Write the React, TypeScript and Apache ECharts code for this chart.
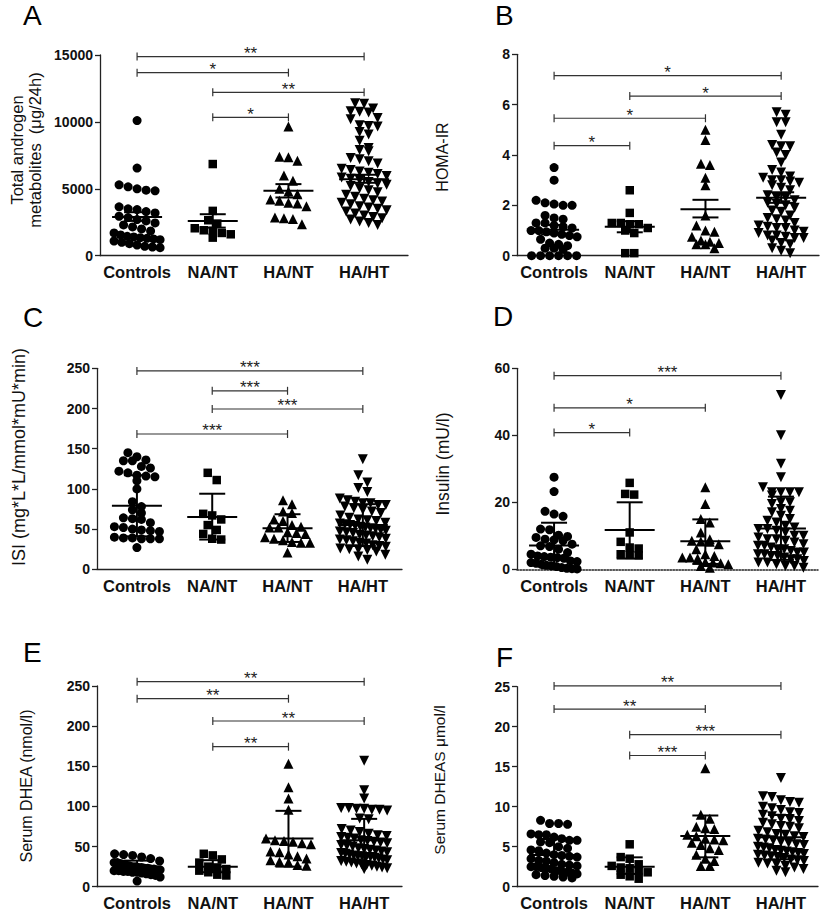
import React, { useEffect, useRef } from "react";
import * as echarts from "echarts";

const categories = ["Controls", "NA/NT", "HA/NT", "HA/HT"];

// ---------- Panel A: Total androgen metabolites (µg/24h) ----------
const aControls = [10100, 6550, 5300, 5150, 5000, 4900, 4850, 3650, 3500, 3450, 3300, 3200, 2950, 2850, 2700, 2600, 2450, 2300, 2150, 2000, 1850, 1700, 1550, 1450, 1400, 1350, 1300, 1250, 1200, 1100, 1000, 900, 800, 700, 650, 600];
const aNaNt = [6850, 3350, 2650, 2400, 2050, 1900, 1850, 1700, 1600, 1350];
const aHaNt = [9650, 7400, 7350, 7100, 6000, 5600, 5000, 4800, 4600, 4200, 4100, 3950, 3900, 3700, 2850, 2800, 2750, 2350];
const aHaHt = [11400, 11350, 11000, 10800, 10750, 10700, 10300, 10200, 9750, 9700, 9650, 9250, 9050, 8600, 8050, 7900, 7800, 7300, 7200, 7050, 6900, 6500, 6400, 6300, 6200, 6100, 5950, 5850, 5750, 5650, 5500, 5400, 5300, 5200, 5050, 4900, 4750, 4550, 4400, 4250, 4150, 4050, 3950, 3850, 3700, 3600, 3500, 3400, 3300, 3150, 3000, 2900, 2800, 2700, 2550, 2450, 2300];
const aMean = [2900, 2600, 4850, 5720];
const aLow = [2600, 2100, 4350, 5450];
const aHigh = [3250, 3100, 5350, 6050];
const aBrackets: [number, number, number, string][] = [[0, 3, 14880, "**"], [0, 2, 13680, "*"], [1, 3, 12210, "**"], [1, 2, 10340, "*"]];

// ---------- Panel B: HOMA-IR ----------
const bControls = [3.5, 3.0, 2.2, 2.1, 2.05, 2.0, 2.0, 1.6, 1.5, 1.45, 1.3, 1.3, 1.2, 1.15, 1.1, 1.0, 1.0, 0.95, 0.9, 0.85, 0.8, 0.75, 0.65, 0.5, 0.45, 0.4, 0.3, 0.3, 0.25, 0, 0, 0, 0, 0, 0];
const bNaNt = [2.6, 1.7, 1.3, 1.3, 1.25, 1.25, 1.1, 1.0, 0.9, 0.1, 0.1];
const bHaNt = [5.0, 4.6, 3.65, 3.6, 3.1, 2.8, 1.6, 1.2, 1.0, 0.95, 0.75, 0.6, 0.55, 0.5, 0.45, 0.45, 0.3];
const bHaHt = [5.7, 5.6, 5.3, 5.3, 4.8, 4.4, 4.35, 4.35, 4.1, 4.0, 3.7, 3.4, 3.3, 3.15, 3.1, 3.0, 3.0, 2.95, 2.9, 2.8, 2.7, 2.6, 2.4, 2.3, 2.3, 2.2, 2.1, 2.05, 2.0, 1.9, 1.8, 1.75, 1.6, 1.5, 1.45, 1.4, 1.3, 1.2, 1.15, 1.1, 1.1, 1.0, 0.95, 0.9, 0.8, 0.8, 0.75, 0.7, 0.7, 0.6, 0.5, 0.45, 0.3, 0.2, 0.1];
const bMean = [1.03, 1.15, 1.85, 2.3];
const bLow = [0.85, 0.93, 1.52, 2.1];
const bHigh = [1.22, 1.37, 2.22, 2.52];
const bBrackets: [number, number, number, string][] = [[0, 3, 7.15, "*"], [1, 3, 6.34, "*"], [0, 2, 5.46, "*"], [0, 1, 4.37, "*"]];

// ---------- Panel C: ISI ----------
const cControls = [145, 140, 136, 135, 135, 128, 126, 122, 120, 117, 116, 115, 110, 100, 84, 78, 74, 70, 64, 63, 62, 58, 53, 52, 50, 49, 48, 47, 40, 39, 39, 38, 38, 38, 27];
const cNaNt = [120, 111, 69, 67, 62, 55, 49, 44, 38, 37];
const cHaNt = [86, 81, 72, 70, 62, 60, 55, 53, 52, 52, 46, 45, 44, 40, 38, 36, 34, 33, 33, 21];
const cHaHt = [137, 117, 108, 101, 96, 88, 86, 84, 82, 82, 80, 80, 78, 76, 74, 72, 70, 67, 64, 62, 61, 60, 58, 57, 56, 55, 54, 53, 52, 51, 50, 49, 48, 47, 46, 45, 43, 42, 41, 40, 38, 37, 36, 35, 33, 32, 30, 29, 28, 26, 25, 25, 24, 22, 18, 16, 12];
const cMean = [79, 65, 51, 55];
const cLow = [41, 37, 34, 29];
const cHigh = [117, 94, 68.5, 81];
const cBrackets: [number, number, number, string][] = [[0, 3, 246.7, "***"], [1, 2, 222, "***"], [1, 3, 199.4, "***"], [0, 2, 168.3, "***"]];

// ---------- Panel D: Insulin (mU/l) ----------
const dControls = [27.5, 23.2, 17.3, 16.5, 15.8, 12, 11.8, 10.2, 9.8, 9.5, 9, 8.8, 8.5, 7.5, 7, 6.8, 6, 5, 4.5, 4, 3.8, 3.6, 3.5, 3.3, 2.5, 2.3, 2, 1.8, 1.5, 1.2, 1, 0.8, 0.5, 0.3, 0.2, 0.1];
const dNaNt = [25.8, 22.5, 22.3, 11, 8.2, 6.5, 6.2, 4.5, 4.3, 4.2];
const dHaNt = [24.5, 19.5, 15, 14, 11, 9, 8.5, 8.3, 8.2, 7.5, 6, 4.5, 4, 3.5, 3.5, 3.2, 2.2, 2, 1.8, 1.5, 1, 0.5];
const dHaHt = [52, 40, 31.5, 27.5, 24.5, 23, 23, 23, 23, 22, 20, 20, 19.5, 18, 17.5, 17, 16, 15, 14.5, 14, 13, 12.5, 12, 12, 11.5, 11, 10, 10, 9.5, 9, 9, 8.5, 8, 7.5, 7, 7, 6.5, 6, 6, 5.5, 5, 5, 4.5, 4.5, 4, 4, 3.5, 3, 3, 2.5, 2, 2, 1.5, 1, 1, 0.5];
const dMean = [7.1, 11.7, 8.4, 12.2];
const dLow = [0.3, 3.2, 1.6, 2.8];
const dHigh = [13.9, 20, 14.9, 21.7];
const dBrackets: [number, number, number, string][] = [[0, 3, 57.8, "***"], [0, 2, 48.2, "*"], [0, 1, 40.8, "*"]];

// ---------- Panel E: Serum DHEA (nmol/l) ----------
const eControls = [41, 40, 39, 37, 35, 32, 30, 30, 29, 28, 27, 26, 25, 25, 24, 24, 23, 23, 22, 22, 21, 21, 20, 20, 19, 19, 18, 18, 17, 16, 15, 14, 12, 7];
const eNaNt = [41, 39, 34, 30, 25, 24, 22, 20, 18, 15, 14];
const eHaNt = [153, 124, 110, 96, 60, 58, 57, 56, 54, 53, 44, 43, 40, 38, 35, 33, 31, 30, 27, 26];
const eHaHt = [157, 120, 110, 98, 98, 97, 97, 96, 96, 95, 85, 84, 72, 70, 68, 66, 64, 63, 62, 61, 60, 58, 57, 56, 55, 54, 52, 51, 50, 48, 47, 46, 45, 44, 43, 42, 41, 40, 39, 38, 38, 37, 37, 36, 35, 34, 33, 32, 31, 30, 29, 28, 27, 26, 25, 24, 23, 22];
const eMean = [24, 25, 60, 58];
const eLow = [15.5, 18, 25, 31];
const eHigh = [32.5, 33, 94.5, 84.5];
const eBrackets: [number, number, number, string][] = [[0, 3, 255.4, "**"], [0, 2, 234.2, "**"], [1, 3, 206.4, "**"], [1, 2, 174.4, "**"]];

// ---------- Panel F: Serum DHEAS µmol/l ----------
const fControls = [8.3, 7.9, 7.9, 7.8, 6.6, 6.5, 6.5, 6.2, 6, 5.8, 5.8, 5.6, 5.5, 5, 4.8, 4.6, 4.5, 4.2, 4.0, 3.9, 3.8, 3.7, 3.5, 3.3, 3.2, 3.0, 2.8, 2.7, 2.6, 2.5, 2.5, 2.4, 2.3, 2.2, 2.0, 1.9, 1.8, 1.7, 1.6, 1.5, 1.4, 1.3, 1.2, 1.1];
const fNaNt = [5.3, 3.7, 3.5, 2.8, 2.6, 2.4, 2.3, 2.0, 1.8, 1.5, 1.3, 1.0];
const fHaNt = [14.8, 9.0, 8.5, 7.5, 7.3, 7.2, 6.5, 6.3, 6.0, 5.9, 5.8, 5.5, 5.2, 4.8, 4.6, 4.0, 3.5, 3.2, 2.6, 2.6];
const fHaHt = [13.6, 11.3, 11.2, 10.8, 10.6, 10.5, 10.0, 9.8, 9.6, 9.3, 9.2, 9.0, 8.8, 8.5, 8.4, 8.2, 8.0, 7.8, 7.6, 7.5, 7.3, 7.0, 6.8, 6.6, 6.5, 6.3, 6.2, 6.0, 5.9, 5.8, 5.6, 5.5, 5.3, 5.2, 5.0, 4.9, 4.8, 4.6, 4.5, 4.4, 4.3, 4.2, 4.1, 4.0, 3.9, 3.8, 3.7, 3.6, 3.4, 3.3, 3.2, 3.0, 2.9, 2.8, 2.6, 2.4, 2.2, 2.0, 1.8];
const fMean = [3.96, 2.5, 6.33, 6.17];
const fLow = [2.0, 1.6, 3.67, 3.42];
const fHigh = [5.96, 3.67, 8.9, 8.96];
const fBrackets: [number, number, number, string][] = [[0, 3, 25.1, "**"], [0, 2, 22.2, "**"], [1, 3, 19.0, "***"], [1, 2, 16.4, "***"]];

// ---------- layout / styling ----------
const FONT = "'Liberation Sans', Arial, Helvetica, sans-serif";
const symbols = ["circle", "rect", "triangle", "triangle"];
const symbolRot = [0, 0, 0, 180];
const symbolSizes = [9, 8.5, 10, 10];

const panels = [
  { letter: "A", lx: 23, ly: 15, groups: [aControls, aNaNt, aHaNt, aHaHt], mean: aMean, low: aLow, high: aHigh, brackets: aBrackets,
    left: 100, top: 55, width: 308, height: 200.7, xMin: -0.49, xMax: 3.58, yMax: 15000, yInt: 5000, dotted: false,
    title: "Total androgen\nmetabolites  (μg/24h)", tx: 26, ty: 150, tSize: 16.5 },
  { letter: "B", lx: 495, ly: 15, groups: [bControls, bNaNt, bHaNt, bHaHt], mean: bMean, low: bLow, high: bHigh, brackets: bBrackets,
    left: 517, top: 54.3, width: 302, height: 201.4, xMin: -0.49, xMax: 3.5, yMax: 8, yInt: 2, dotted: false,
    title: "HOMA-IR", tx: 442, ty: 157, tSize: 16 },
  { letter: "C", lx: 23, ly: 317, groups: [cControls, cNaNt, cHaNt, cHaHt], mean: cMean, low: cLow, high: cHigh, brackets: cBrackets,
    left: 97, top: 368.3, width: 305, height: 201, xMin: -0.53, xMax: 3.52, yMax: 250, yInt: 50, dotted: false,
    title: "ISI (mg*L*L/mmol*mU*min)", tx: 19, ty: 457, tSize: 18 },
  { letter: "D", lx: 493, ly: 316, groups: [dControls, dNaNt, dHaNt, dHaHt], mean: dMean, low: dLow, high: dHigh, brackets: dBrackets,
    left: 517, top: 368.3, width: 301, height: 201, xMin: -0.49, xMax: 3.49, yMax: 60, yInt: 20, dotted: true,
    title: "Insulin (mU/l)", tx: 443, ty: 464, tSize: 17.5 },
  { letter: "E", lx: 23, ly: 652.5, groups: [eControls, eNaNt, eHaNt, eHaHt], mean: eMean, low: eLow, high: eHigh, brackets: eBrackets,
    left: 97, top: 686, width: 305, height: 200.7, xMin: -0.53, xMax: 3.5, yMax: 250, yInt: 50, dotted: false,
    title: "Serum DHEA (nmol/l)", tx: 26, ty: 786, tSize: 16 },
  { letter: "F", lx: 496, ly: 657, groups: [fControls, fNaNt, fHaNt, fHaHt], mean: fMean, low: fLow, high: fHigh, brackets: fBrackets,
    left: 517, top: 686.7, width: 301, height: 200, xMin: -0.49, xMax: 3.49, yMax: 25, yInt: 5, dotted: false,
    title: "Serum DHEAS μmol/l", tx: 439, ty: 780, tSize: 15.5 },
];

// Prism-like scatter-dot arrangement: points with close values share a row
function swarm(values: number[], gi: number, xPx: number, yPx: number) {
  const sorted = [...values].sort((a, b) => b - a);
  const rows: number[][] = [];
  let cur: number[] = [];
  for (const v of sorted) {
    if (cur.length && (cur[0] - v) * yPx > 7.5) {
      rows.push(cur);
      cur = [];
    }
    cur.push(v);
  }
  if (cur.length) rows.push(cur);
  const pts: number[][] = [];
  for (const row of rows) {
    const n = row.length;
    const step = n > 1 ? Math.min(9, 46 / (n - 1)) : 0;
    row.forEach((v, i) => pts.push([gi + ((i - (n - 1) / 2) * step) / xPx, v]));
  }
  return pts;
}

export default function App() {
  const ref = useRef<HTMLDivElement>(null);
  useEffect(() => {
    if (!ref.current) return;
    const chart = echarts.init(ref.current, undefined, { renderer: "svg" });
    const grid: any[] = [];
    const xAxis: any[] = [];
    const yAxis: any[] = [];
    const series: any[] = [];
    const graphic: any[] = [];

    panels.forEach((p, pi) => {
      grid.push({ left: p.left, top: p.top, width: p.width, height: p.height, containLabel: false, outerBoundsMode: "none" });
      xAxis.push({
        type: "value", gridIndex: pi, min: p.xMin, max: p.xMax,
        splitLine: { show: false },
        axisTick: { show: false },
        axisLine: { show: true, onZero: false, lineStyle: { color: "#222", width: p.dotted ? 1.5 : 1.3, type: p.dotted ? "dotted" : "solid" } },
        axisLabel: {
          customValues: [0, 1, 2, 3],
          formatter: (v: number) => categories[Math.round(v)] ?? "",
          color: "#111", fontWeight: "bold", fontSize: 16.5, fontFamily: FONT, margin: 8,
        },
      });
      yAxis.push({
        type: "value", gridIndex: pi, min: 0, max: p.yMax, interval: p.yInt,
        splitLine: { show: false },
        axisLine: { show: true, onZero: false, lineStyle: { color: "#222", width: 1.3 } },
        axisTick: { show: true, length: 5, lineStyle: { color: "#222", width: 1.3 } },
        axisLabel: { color: "#111", fontWeight: "bold", fontSize: 14, fontFamily: FONT, margin: 7, formatter: (v: number) => String(v) },
      });

      const xPx = p.width / (p.xMax - p.xMin);
      const yPx = p.height / p.yMax;

      p.groups.forEach((vals, gi) => {
        series.push({
          type: "scatter", xAxisIndex: pi, yAxisIndex: pi,
          symbol: symbols[gi], symbolRotate: symbolRot[gi], symbolSize: symbolSizes[gi],
          itemStyle: { color: "#000", opacity: 1 },
          data: swarm(vals, gi, xPx, yPx),
          z: 2,
        });
      });

      // mean and error bars
      series.push({
        type: "custom", xAxisIndex: pi, yAxisIndex: pi, z: 3,
        encode: { x: 0, y: [1, 2, 3] },
        data: p.mean.map((m, i) => [i, m, p.low[i], p.high[i]]),
        renderItem: (params: any, api: any) => {
          const x = api.value(0);
          const c = api.coord([x, api.value(1)]);
          const lo = api.coord([x, api.value(2)]);
          const hi = api.coord([x, api.value(3)]);
          const st = { stroke: "#000", lineWidth: 2 };
          const mw = 25, cw = 13;
          return {
            type: "group",
            children: [
              { type: "line", shape: { x1: c[0] - mw, y1: c[1], x2: c[0] + mw, y2: c[1] }, style: st },
              { type: "line", shape: { x1: c[0], y1: lo[1], x2: c[0], y2: hi[1] }, style: st },
              { type: "line", shape: { x1: c[0] - cw, y1: lo[1], x2: c[0] + cw, y2: lo[1] }, style: st },
              { type: "line", shape: { x1: c[0] - cw, y1: hi[1], x2: c[0] + cw, y2: hi[1] }, style: st },
            ],
          };
        },
      });

      // significance brackets
      const br = p.brackets;
      series.push({
        type: "custom", xAxisIndex: pi, yAxisIndex: pi, z: 4, clip: false,
        encode: { x: [0, 1], y: 2 },
        data: br.map((b) => [b[0], b[1], b[2]]),
        renderItem: (params: any, api: any) => {
          const a = api.coord([api.value(0), api.value(2)]);
          const b = api.coord([api.value(1), api.value(2)]);
          const label = br[params.dataIndex][3];
          const st = { stroke: "#333", lineWidth: 1.2 };
          return {
            type: "group",
            children: [
              { type: "line", shape: { x1: a[0], y1: a[1], x2: b[0], y2: b[1] }, style: st },
              { type: "line", shape: { x1: a[0], y1: a[1] - 4, x2: a[0], y2: a[1] + 4 }, style: st },
              { type: "line", shape: { x1: b[0], y1: b[1] - 4, x2: b[0], y2: b[1] + 4 }, style: st },
              {
                type: "text", x: (a[0] + b[0]) / 2, y: a[1] - 3,
                style: { text: label, fill: "#222", fontSize: 17, fontFamily: FONT, align: "center", verticalAlign: "middle" },
              },
            ],
          };
        },
      });

      graphic.push({
        type: "text", x: p.lx, y: p.ly,
        style: { text: p.letter, fill: "#000", fontSize: 28, fontFamily: FONT, align: "left", verticalAlign: "middle" },
      });
      graphic.push({
        type: "text", x: p.tx, y: p.ty, rotation: Math.PI / 2,
        style: { text: p.title, fill: "#111", fontSize: p.tSize, lineHeight: 18, fontFamily: FONT, align: "center", verticalAlign: "middle" },
      });
    });

    chart.setOption({
      animation: false,
      backgroundColor: "#fff",
      grid, xAxis, yAxis, series, graphic,
    });
    return () => chart.dispose();
  }, []);

  return <div ref={ref} style={{ position: "fixed", left: 0, top: 0, width: 822, height: 912 }} />;
}
